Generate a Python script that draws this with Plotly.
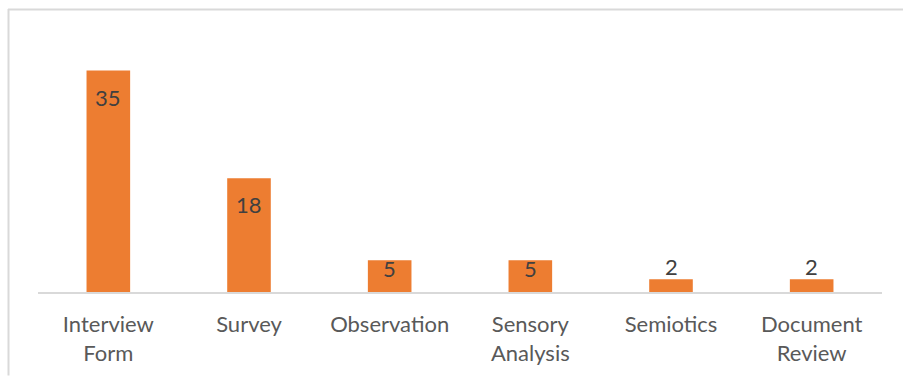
import plotly.graph_objects as go

# Data
categories = ["Interview Form", "Survey", "Observation", "Sensory Analysis", "Semiotics", "Document Review"]
tick_labels = ["Interview<br>Form", "Survey", "Observation", "Sensory<br>Analysis", "Semiotics", "Document<br>Review"]
counts = [35, 18, 5, 5, 2, 2]

BAR_COLOR = "#ED7D31"
AXIS_TEXT = "#595959"
LABEL_TEXT = "#404040"
FONT = "Lato"

W, H = 903, 378
M_L, M_R, M_T, M_B = 38, 21, 20, 84
Y_MAX = 43.0
plot_h = H - M_T - M_B
px_per_unit = plot_h / Y_MAX

fig = go.Figure(
    go.Bar(
        x=categories,
        y=counts,
        marker=dict(color=BAR_COLOR, line=dict(width=0)),
        width=0.31,
        hoverinfo="skip",
    )
)

# Value labels: inside near the top when the bar is tall enough, otherwise above it
annotations = []
for cat, v in zip(categories, counts):
    bar_px = v * px_per_unit
    if bar_px > 20:
        inset = max(0.0, min(18.0, bar_px - 32))
        annotations.append(dict(x=cat, y=v, xref="x", yref="y", text=str(v), showarrow=False,
                                yanchor="top", yshift=-inset + 7,
                                font=dict(family=FONT, size=22, color=LABEL_TEXT)))
    else:
        annotations.append(dict(x=cat, y=v, xref="x", yref="y", text=str(v), showarrow=False,
                                yanchor="bottom", yshift=-3,
                                font=dict(family=FONT, size=22, color=LABEL_TEXT)))

# Chart-area border (top and left edges)
def px_to_paper_x(px):
    return (px - M_L) / (W - M_L - M_R)

def px_to_paper_y(py):
    return (H - M_B - py) / plot_h

border = dict(color="#D9D9D9", width=2)
shapes = [
    dict(type="line", xref="paper", yref="paper",
         x0=px_to_paper_x(8), x1=px_to_paper_x(903), y0=px_to_paper_y(9.5), y1=px_to_paper_y(9.5), line=border),
    dict(type="line", xref="paper", yref="paper",
         x0=px_to_paper_x(8.5), x1=px_to_paper_x(8.5), y0=px_to_paper_y(9), y1=px_to_paper_y(378), line=border),
]

fig.update_layout(
    width=W, height=H,
    margin=dict(l=M_L, r=M_R, t=M_T, b=M_B, pad=0),
    paper_bgcolor="white", plot_bgcolor="white",
    showlegend=False,
    font=dict(family=FONT, size=21, color=AXIS_TEXT),
    xaxis=dict(
        tickmode="array", tickvals=categories, ticktext=tick_labels,
        showline=True, linecolor="#D9D9D9", linewidth=2,
        ticks="", showgrid=False, zeroline=False,
        ticklabelstandoff=12,
        tickfont=dict(family=FONT, size=22, color=AXIS_TEXT),
        fixedrange=True,
    ),
    yaxis=dict(range=[0, Y_MAX], visible=False, showgrid=False, zeroline=False, fixedrange=True),
    annotations=annotations,
    shapes=shapes,
)

fig.write_html("out.html", config={"displayModeBar": False})
